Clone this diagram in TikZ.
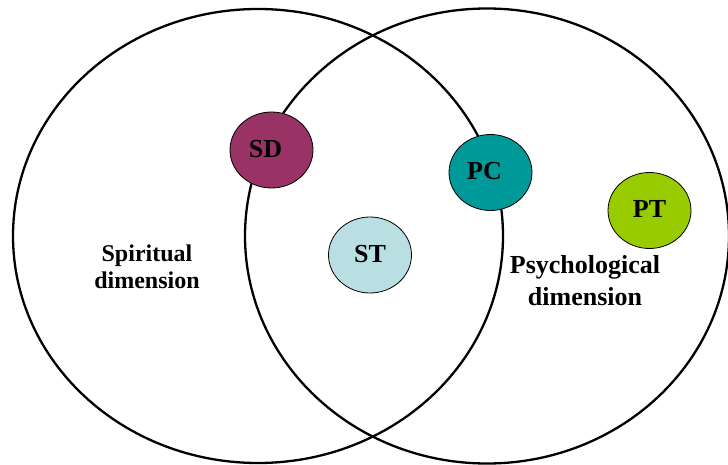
\documentclass[tikz,border=0pt]{standalone}
\usepackage{fontspec}
\setmainfont{Liberation Serif}
\usetikzlibrary{shapes.geometric, positioning}
\definecolor{sdPurple}{HTML}{993366}
\definecolor{pcTeal}{HTML}{009999}
\definecolor{stBlue}{HTML}{B9DFE3}
\definecolor{ptGreen}{HTML}{99CC00}

\begin{document}
\begin{tikzpicture}[
    x=1pt, y=-1pt,
    dimcircle/.style={ellipse, draw, line width=2.3pt, inner sep=0pt},
    facetbox/.style={ellipse, draw, line width=0.8pt, minimum width=83pt, minimum height=76pt, inner sep=0pt, text depth=3pt, font=\fontsize{26}{26}\selectfont\bfseries},
    dimlabel/.style={align=center, inner sep=0pt}
]
\useasboundingbox (0,0) rectangle (728,465);

% the two dimensions
\node[dimcircle, minimum width=490pt, minimum height=454pt] (spirit) at (258,236) {};
\node[dimcircle, minimum width=484pt, minimum height=455pt] (psych) at (487,236) {};

\node[dimlabel, font=\fontsize{24}{27}\selectfont\bfseries] (spiritlbl) at (147,267) {Spiritual\\dimension};
\node[dimlabel, font=\fontsize{26}{32}\selectfont\bfseries] (psychlbl) at (585,281) {Psychological\\dimension};

% facets
\node[facetbox, fill=sdPurple] (sd) at (271.5,150) {\kern-12pt SD};
\node[facetbox, fill=pcTeal] (pc) at (490.5,172.5) {\kern-12pt PC};
\node[facetbox, fill=stBlue] (st) at (370,255) {ST};
\node[facetbox, fill=ptGreen] (pt) at (649.5,210.5) {PT};

\end{tikzpicture}
\end{document}
